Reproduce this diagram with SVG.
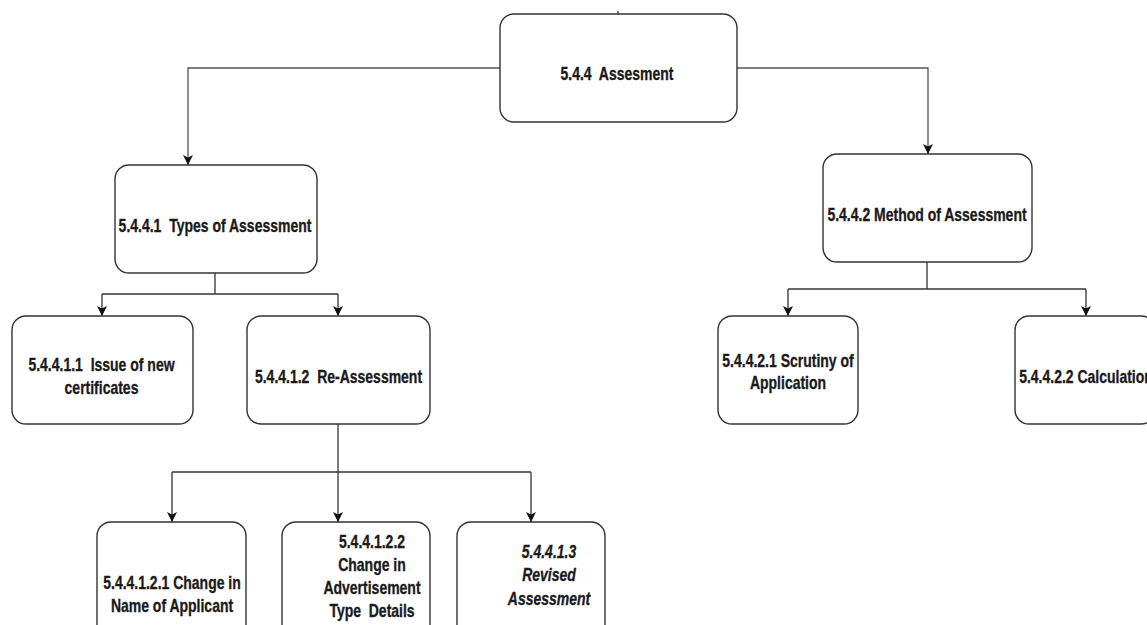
<svg xmlns="http://www.w3.org/2000/svg" width="1147" height="625" viewBox="0 0 1147 625">
  <defs>
    <marker id="arrow" viewBox="0 0 10 10" refX="10" refY="5" markerWidth="10" markerHeight="10" markerUnits="userSpaceOnUse" orient="auto">
      <path d="M0,0 L10,5 L0,10 L2.5,5 Z" fill="#111"/>
    </marker>
  </defs>
  <style>
    .box { fill: #fff; stroke: #333; stroke-width: 1.4; }
    .lbl { font-family: "Liberation Sans", Arial, sans-serif; font-size: 14px; font-weight: bold; fill: #1a1a1a; stroke: #1a1a1a; stroke-width: 0.25; text-anchor: middle; white-space: pre; }
    .it { font-style: italic; }
    .wire { fill: none; stroke: #333; stroke-width: 1.3; }
    .wire.top { stroke: #555; }
    .wire.arr { marker-end: url(#arrow); }
  </style>
  <rect width="1147" height="625" fill="#fff"/>

  <g id="connectors">
    <path class="wire" d="M618,11 V14"/>
    <path class="wire top arr" d="M500,68 H188 V165"/>
    <path class="wire top arr" d="M737,68 H928 V154"/>
    <path class="wire" d="M215,273 V294"/>
    <path class="wire" d="M102,294 H338"/>
    <path class="wire arr" d="M102,294 V316"/>
    <path class="wire arr" d="M338,294 V316"/>
    <path class="wire arr" d="M338,424 V522"/>
    <path class="wire" d="M172,472 H531"/>
    <path class="wire arr" d="M172,472 V522"/>
    <path class="wire arr" d="M531,472 V522"/>
    <path class="wire" d="M927,262 V289"/>
    <path class="wire" d="M788,289 H1086"/>
    <path class="wire arr" d="M788,289 V316"/>
    <path class="wire arr" d="M1086,289 V316"/>
  </g>

  <g id="n-5-4-4">
    <rect class="box" x="500" y="14" width="237" height="108" rx="14"/>
    <text class="lbl" transform="translate(617,80) scale(1,1.25)">5.4.4  Assesment</text>
  </g>

  <g id="n-5-4-4-1">
    <rect class="box" x="115" y="165" width="202" height="108" rx="14"/>
    <text class="lbl" transform="translate(215,232) scale(1,1.25)">5.4.4.1  Types of Assessment</text>
  </g>

  <g id="n-5-4-4-2">
    <rect class="box" x="823" y="154" width="209" height="108" rx="14"/>
    <text class="lbl" transform="translate(927,221) scale(1,1.25)">5.4.4.2 Method of Assessment</text>
  </g>

  <g id="n-5-4-4-1-1">
    <rect class="box" x="12" y="316" width="181" height="108" rx="14"/>
    <text class="lbl" transform="translate(101.5,371) scale(1,1.25)"><tspan x="0" y="0">5.4.4.1.1  Issue of new</tspan><tspan x="0" y="18.4">certificates</tspan></text>
  </g>

  <g id="n-5-4-4-1-2">
    <rect class="box" x="247" y="316" width="183" height="108" rx="14"/>
    <text class="lbl" transform="translate(338.5,383) scale(1,1.25)">5.4.4.1.2  Re-Assessment</text>
  </g>

  <g id="n-5-4-4-2-1">
    <rect class="box" x="718" y="316" width="140" height="108" rx="14"/>
    <text class="lbl" transform="translate(788,367) scale(1,1.25)"><tspan x="0" y="0">5.4.4.2.1 Scrutiny of</tspan><tspan x="0" y="17.8">Application</tspan></text>
  </g>

  <g id="n-5-4-4-2-2">
    <rect class="box" x="1015" y="316" width="140" height="108" rx="14"/>
    <text class="lbl" transform="translate(1086,383) scale(1,1.25)">5.4.4.2.2 Calculation</text>
  </g>

  <g id="n-5-4-4-1-2-1">
    <rect class="box" x="97" y="522" width="149" height="120" rx="14"/>
    <text class="lbl" transform="translate(172,589) scale(1,1.25)"><tspan x="0" y="0">5.4.4.1.2.1 Change in</tspan><tspan x="0" y="18.4">Name of Applicant</tspan></text>
  </g>

  <g id="n-5-4-4-1-2-2">
    <rect class="box" x="282" y="522" width="148" height="120" rx="14"/>
    <text class="lbl" transform="translate(372,548) scale(1,1.25)"><tspan x="0" y="0">5.4.4.1.2.2</tspan><tspan x="0" y="18.4">Change in</tspan><tspan x="0" y="36.8">Advertisement</tspan><tspan x="0" y="55.2">Type  Details</tspan></text>
  </g>

  <g id="n-5-4-4-1-3">
    <rect class="box" x="457" y="522" width="148" height="120" rx="14"/>
    <text class="lbl it" transform="translate(549,558) scale(1,1.25)"><tspan x="0" y="0">5.4.4.1.3</tspan><tspan x="0" y="18.8">Revised</tspan><tspan x="0" y="37.6">Assessment</tspan></text>
  </g>
</svg>
